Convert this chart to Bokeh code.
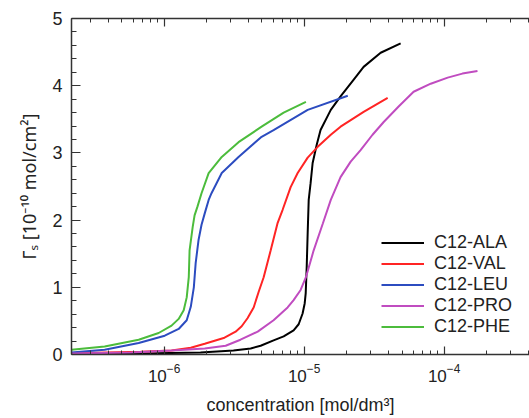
from bokeh.plotting import figure
from bokeh.models import (Range1d, LogAxis, FixedTicker, SingleIntervalTicker,
                          CustomJSTickFormatter)
from bokeh.embed import file_html
from bokeh.resources import INLINE

# ---- data ----
ala_c = [2.18e-7, 6.79e-7, 1.82e-6, 3.13e-6, 4.15e-6, 4.89e-6, 6.05e-6, 7.14e-6,
         8.41e-6, 9.14e-6, 9.75e-6, 1.009e-5, 1.026e-5, 1.043e-5, 1.060e-5, 1.078e-5,
         1.112e-5, 1.15e-5, 1.23e-5, 1.31e-5, 1.55e-5, 1.82e-5, 2.26e-5, 2.66e-5,
         3.52e-5, 4.89e-5]
ala_g = [0.01, 0.015, 0.03, 0.06, 0.09, 0.13, 0.21, 0.27,
         0.36, 0.45, 0.61, 0.76, 0.91, 1.30, 1.81, 2.30,
         2.55, 2.85, 3.12, 3.34, 3.64, 3.84, 4.09, 4.28,
         4.49, 4.63]

val_c = [2.18e-7, 6.79e-7, 1.13e-6, 1.55e-6, 1.95e-6, 2.70e-6, 3.24e-6, 3.58e-6,
         3.94e-6, 4.36e-6, 4.73e-6, 5.14e-6, 5.77e-6, 6.47e-6, 7.01e-6, 8.01e-6,
         8.99e-6, 1.06e-5, 1.25e-5, 1.55e-5, 1.82e-5, 2.66e-5, 3.95e-5]
val_g = [0.02, 0.04, 0.06, 0.10, 0.16, 0.25, 0.34, 0.42,
         0.54, 0.70, 0.93, 1.15, 1.55, 1.96, 2.15, 2.49,
         2.70, 2.93, 3.09, 3.27, 3.39, 3.61, 3.82]

leu_c = [2.18e-7, 3.76e-7, 6.58e-7, 1.01e-6, 1.27e-6, 1.45e-6, 1.55e-6, 1.63e-6,
         1.68e-6, 1.76e-6, 1.85e-6, 1.95e-6, 2.08e-6, 2.18e-6, 2.58e-6, 3.40e-6,
         4.97e-6, 6.05e-6, 1.06e-5, 2.05e-5]
leu_g = [0.03, 0.07, 0.17, 0.28, 0.38, 0.51, 0.71, 1.00,
         1.36, 1.70, 1.93, 2.10, 2.30, 2.40, 2.70, 2.94,
         3.24, 3.34, 3.64, 3.85]

pro_c = [2.18e-7, 5.77e-7, 1.13e-6, 1.95e-6, 2.75e-6, 3.51e-6, 4.66e-6, 6.05e-6,
         7.62e-6, 8.41e-6, 9.44e-6, 1.03e-5, 1.17e-5, 1.36e-5, 1.55e-5, 1.82e-5,
         2.15e-5, 2.53e-5, 3.08e-5, 3.70e-5, 4.73e-5, 6.05e-5, 8.02e-5, 1.06e-4,
         1.35e-4, 1.73e-4]
pro_g = [0.015, 0.03, 0.06, 0.09, 0.13, 0.22, 0.34, 0.51,
         0.70, 0.81, 0.96, 1.15, 1.55, 1.95, 2.30, 2.64,
         2.87, 3.04, 3.27, 3.46, 3.69, 3.91, 4.03, 4.12,
         4.18, 4.22]

phe_c = [2.18e-7, 3.76e-7, 6.58e-7, 9.14e-7, 1.13e-6, 1.27e-6, 1.38e-6, 1.45e-6,
         1.50e-6, 1.52e-6, 1.60e-6, 1.65e-6, 1.73e-6, 1.85e-6, 2.08e-6, 2.58e-6,
         3.40e-6, 4.97e-6, 7.14e-6, 1.03e-5]
phe_g = [0.07, 0.12, 0.22, 0.32, 0.43, 0.53, 0.66, 0.85,
         1.15, 1.55, 1.90, 2.07, 2.20, 2.40, 2.70, 2.94,
         3.16, 3.39, 3.60, 3.76]

series_names = ["C12-ALA", "C12-VAL", "C12-LEU", "C12-PRO", "C12-PHE"]
series_c = [ala_c, val_c, leu_c, pro_c, phe_c]
series_g = [ala_g, val_g, leu_g, pro_g, phe_g]
series_colors = ["#000000", "#ff2424", "#2c4cc0", "#c04cc0", "#4cbc3c"]

x_major = [1e-6, 1e-5, 1e-4]
x_minor = [m * 10.0 ** e for e in range(-7, -3) for m in range(2, 10)]
y_ticks_interval = 1
x_title = "concentration [mol/dm³]"
y_title = "Γₛ [10⁻¹⁰ mol/cm²]"

FONT = "Liberation Sans"
AX_COLOR = "#333333"

p = figure(width=529, height=418, x_axis_type="log",
           x_range=Range1d(2.18e-7, 4.07e-4), y_range=Range1d(0, 5),
           output_backend="svg", toolbar_location=None,
           min_border_left=71, min_border_right=0, min_border_top=18,
           min_border_bottom=64)
p.outline_line_color = None
p.grid.visible = False
p.background_fill_color = "white"

for name, c, g, col in zip(series_names, series_c, series_g, series_colors):
    p.line(c, g, line_color=col, line_width=2, legend_label=name)

xt = FixedTicker(ticks=x_major, minor_ticks=x_minor)


def style(ax):
    ax.axis_line_color = AX_COLOR
    ax.axis_line_width = 1.5
    ax.major_tick_line_color = AX_COLOR
    ax.minor_tick_line_color = AX_COLOR
    ax.major_tick_line_width = 1.2
    ax.minor_tick_line_width = 1
    ax.major_tick_out = 0
    ax.minor_tick_out = 0
    ax.major_label_text_font = FONT
    ax.major_label_text_color = "#222222"
    ax.axis_label_text_font = FONT
    ax.axis_label_text_font_style = "normal"
    ax.axis_label_text_color = "#222222"


xa = p.xaxis[0]
xa.ticker = xt
style(xa)
xa.major_tick_in = 8
xa.minor_tick_in = 4
xa.major_label_text_font_size = "17px"
xa.major_label_standoff = 9
xa.axis_label = x_title
xa.axis_label_text_font_size = "18px"
xa.axis_label_standoff = 10

ya = p.yaxis[0]
ya.ticker = SingleIntervalTicker(interval=y_ticks_interval, num_minor_ticks=5)
style(ya)
ya.major_tick_in = 9
ya.minor_tick_in = 5
ya.major_label_text_font_size = "18px"
ya.major_label_standoff = 9
ya.axis_label = y_title
ya.axis_label_text_font = "Noto Sans"
ya.axis_label_text_font_size = "18px"
ya.axis_label_standoff = 8

top = LogAxis(ticker=FixedTicker(ticks=x_major, minor_ticks=x_minor),
              formatter=CustomJSTickFormatter(code="return ''"))
style(top)
top.major_tick_in = 8
top.minor_tick_in = 4
top.major_label_standoff = 0
p.add_layout(top, "above")

lg = p.legend[0]
lg.location = (310, 17)
lg.padding = 0
lg.margin = 0
lg.spacing = 0
lg.label_height = 21
lg.glyph_height = 21
lg.glyph_width = 43
lg.label_standoff = 10
lg.border_line_color = None
lg.background_fill_alpha = 0
lg.label_text_font = FONT
lg.label_text_font_size = "18px"
lg.label_text_color = "#222222"

open("out.html", "w").write(file_html(p, INLINE))
